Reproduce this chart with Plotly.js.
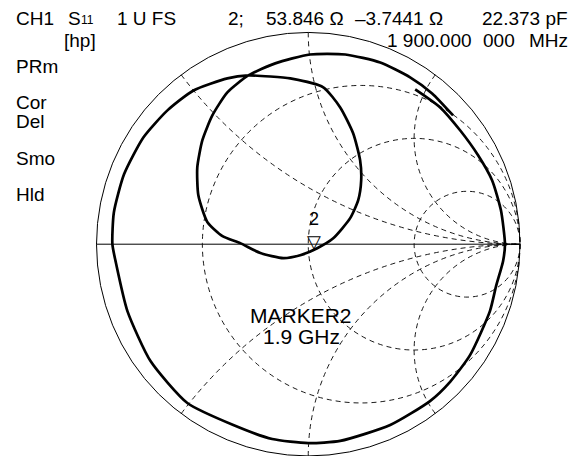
<!DOCTYPE html>
<html><head><meta charset="utf-8">
<script src="https://cdn.plot.ly/plotly-3.0.1.min.js"></script>
<style>html,body{margin:0;padding:0;background:#fff}#chart{width:581px;height:456px}</style>
</head><body><div id="chart"></div>
<script>
const gammaRe = [0.505,0.623,0.717,0.802,0.868,0.910,0.929,0.920,0.887,0.858,0.764,0.670,0.575,0.387,0.151,0.000,-0.170,-0.354,-0.571,-0.745,-0.854,-0.910,-0.925,-0.918,-0.870,-0.778,-0.665,-0.542,-0.382,-0.283,-0.179,-0.085,0.071,0.151,0.212,0.245,0.250,0.236,0.198,0.118,0.040,-0.038,-0.118,-0.226,-0.321,-0.405,-0.476,-0.519,-0.524,-0.500,-0.453,-0.382,-0.283,-0.156,0.008,0.175,0.340,0.481,0.585,0.684];
const gammaIm = [0.731,0.646,0.538,0.420,0.302,0.160,0.000,-0.080,-0.198,-0.316,-0.524,-0.650,-0.741,-0.854,-0.929,-0.939,-0.920,-0.854,-0.750,-0.552,-0.316,-0.080,0.000,0.150,0.330,0.505,0.632,0.726,0.783,0.797,0.792,0.783,0.741,0.646,0.524,0.396,0.302,0.208,0.123,0.028,-0.020,-0.052,-0.066,-0.042,0.005,0.038,0.104,0.231,0.363,0.491,0.608,0.717,0.797,0.854,0.896,0.896,0.858,0.788,0.712,0.608];
// Marker 2 readout
const markerOhmR = 53.846, markerOhmX = -3.7441, refZ0 = 50;
// Grid values
const rGrid = [1/3, 1, 3];
const xGrid = [-2, -1, -0.5, 0.5, 1, 2];

function gammaToZ(re, im) {
  const nr = 1 + re, ni = im, dr = 1 - re, di = -im;
  const d = dr*dr + di*di;
  return [(nr*dr + ni*di)/d, (ni*dr - nr*di)/d];
}
const zr = [], zi = [];
for (let i = 0; i < gammaRe.length; i++) {
  const z = gammaToZ(gammaRe[i], gammaIm[i]);
  zr.push(z[0]); zi.push(z[1]);
}

const trace = {
  type: 'scattersmith', real: zr, imag: zi, mode: 'lines',
  line: {color: '#000', width: 2.7, shape: 'spline', smoothing: 0.6},
  hoverinfo: 'skip', showlegend: false
};

const axisCommon = {
  showticklabels: false, ticks: '', gridcolor: '#000', griddash: '5px,4px',
  gridwidth: 0.9, linecolor: '#000', linewidth: 1, showline: true, color: '#000'
};

const W = 581, H = 456;
const font = 'Liberation Sans, Arial, sans-serif';
function ann(text, x, y, xanchor, size) {
  return {text: text, x: x / W, y: 1 - y / H, xref: 'paper', yref: 'paper',
    xanchor: xanchor, yanchor: 'middle', showarrow: false,
    font: {family: font, size: size || 19, color: '#000'}};
}

const annotations = [
  ann('CH1', 14, 18, 'left'),
  ann('S', 66, 18, 'left'),
  ann('11', 79, 20, 'left', 12),
  ann('1 U FS', 115, 18, 'left'),
  ann('[hp]', 62, 40, 'left'),
  ann('2;', 226, 18, 'left'),
  ann('53.846 Ω', 346, 18, 'right'),
  ann('–3.7441 Ω', 445, 18, 'right'),
  ann('22.373 pF', 570, 18, 'right'),
  ann('1 900.000', 385, 40, 'left'),
  ann('000', 481, 40, 'left'),
  ann('MHz', 570, 40, 'right'),
  ann('PRm', 14, 67, 'left'),
  ann('Cor', 14, 103, 'left'),
  ann('Del', 14, 121, 'left'),
  ann('Smo', 14, 158, 'left'),
  ann('Hld', 14, 194, 'left'),
  ann('MARKER2', 301, 315, 'center', 21),
  ann('1.9 GHz', 301, 336, 'center', 21)
];
const mk = ann('2<br>▽', 314, 230, 'center', 18);
mk.font.family = 'Liberation Sans, DejaVu Sans, sans-serif';
annotations.push(mk);

const layout = {
  width: W, height: H, margin: {l: 0, r: 0, t: 0, b: 0},
  paper_bgcolor: '#fff', showlegend: false, hovermode: false,
  smith: {
    domain: {x: [96.5 / W, 520 / W], y: [0, 1 - 32.4 / H]},
    bgcolor: '#fff',
    realaxis: Object.assign({tickvals: rGrid}, axisCommon),
    imaginaryaxis: Object.assign({tickvals: xGrid}, axisCommon)
  },
  annotations: annotations
};

Plotly.newPlot('chart', [trace], layout, {staticPlot: true, displayModeBar: false});
</script>
</body></html>
